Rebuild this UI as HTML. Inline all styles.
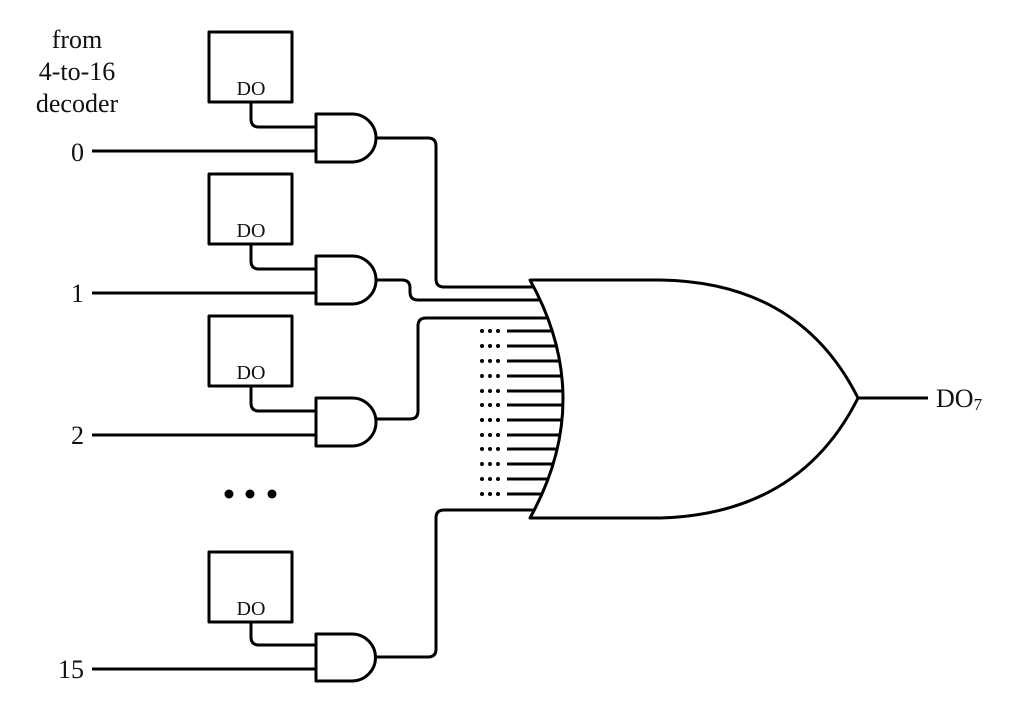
<!DOCTYPE html>
<html><head><style>
html,body{margin:0;padding:0;background:#fff;}
svg{display:block;}
text{font-family:"Liberation Serif",serif;fill:#111;}
</style></head><body>
<svg width="1024" height="718" viewBox="0 0 1024 718" xmlns="http://www.w3.org/2000/svg">
<g fill="none" stroke="#000" stroke-width="3" stroke-linejoin="round">
<rect x="209" y="32" width="83" height="70"/>
<path d="M251 102 V119 Q251 127 259 127 H316"/>
<path d="M92 151 H316"/>
<path d="M316 114 H352 A24 24 0 0 1 352 162 H316 Z"/>
<rect x="209" y="174" width="83" height="70"/>
<path d="M251 244 V261 Q251 269 259 269 H316"/>
<path d="M92 293 H316"/>
<path d="M316 256 H352 A24 24 0 0 1 352 304 H316 Z"/>
<rect x="209" y="316" width="83" height="70"/>
<path d="M251 386 V403 Q251 411 259 411 H316"/>
<path d="M92 435 H316"/>
<path d="M316 398 H352 A24 24 0 0 1 352 446 H316 Z"/>
<rect x="209" y="552" width="83" height="70"/>
<path d="M251 622 V637 Q251 645 259 645 H316"/>
<path d="M92 669 H316"/>
<path d="M316 634 H352 A23.5 23.5 0 0 1 352 681 H316 Z"/>
<path d="M376 138 H428 Q436 138 436 146 V279 Q436 287 444 287 H560"/>
<path d="M376 280 H402 Q410 280 410 288 V292 Q410 300 418 300 H560"/>
<path d="M376 419 H410 Q418 419 418 411 V326 Q418 318 426 318 H560"/>
<path d="M376 657 H428 Q436 657 436 649 V518 Q436 510 444 510 H560"/>
<path d="M507 331H580M507 346H580M507 361H580M507 376H580M507 391H580M507 405H580M507 420H580M507 435H580M507 449H580M507 464H580M507 479H580M507 494H580"/>
<path d="M530 280 H660 Q800 282 858 398 Q800 514 660 518 H530 Q596 399 530 280 Z" fill="#fff"/>
<path d="M858 398 H928"/>
</g>
<g fill="#000">
<g id="d"><circle cx="482" cy="331" r="2"/><circle cx="490" cy="331" r="2"/><circle cx="498" cy="331" r="2"/></g>
<use href="#d" y="15"/><use href="#d" y="30"/><use href="#d" y="45"/><use href="#d" y="60"/><use href="#d" y="74"/><use href="#d" y="89"/><use href="#d" y="104"/><use href="#d" y="118"/><use href="#d" y="133"/><use href="#d" y="148"/><use href="#d" y="163"/>
<circle cx="229" cy="494" r="4.5"/><circle cx="250" cy="494" r="4.5"/><circle cx="272" cy="494" r="4.5"/>
</g>
<g font-size="26" text-anchor="middle">
<text x="77" y="48">from</text>
<text x="77" y="80">4-to-16</text>
<text x="77" y="112">decoder</text>
</g>
<g font-size="26" text-anchor="end">
<text x="84" y="161">0</text>
<text x="84" y="302">1</text>
<text x="84" y="444">2</text>
<text x="84" y="678">15</text>
</g>
<g font-size="20" text-anchor="middle">
<text x="251" y="95">DO</text>
<text x="251" y="237">DO</text>
<text x="251" y="379">DO</text>
<text x="251" y="615">DO</text>
</g>
<text x="936" y="407" font-size="26">DO<tspan font-size="17" dy="3">7</tspan></text>
</svg>
</body></html>
